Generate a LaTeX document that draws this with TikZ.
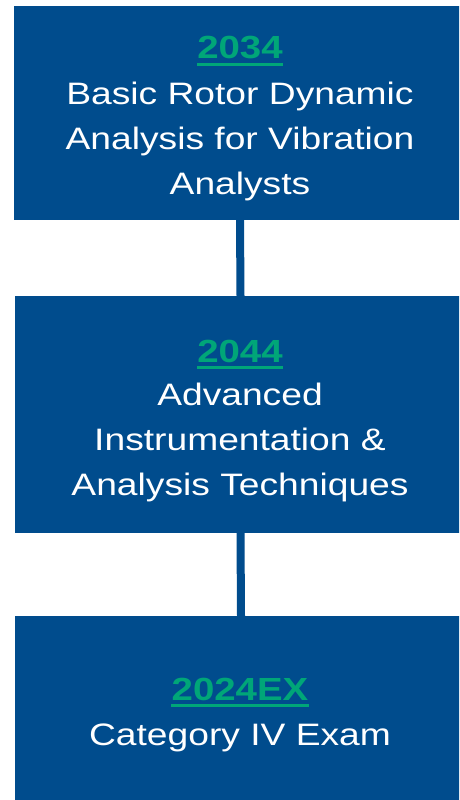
\documentclass[tikz,border=0pt]{standalone}
\usepackage{fontspec}
\setmainfont{Liberation Sans}[FakeStretch=1.2]
\definecolor{boxblue}{RGB}{0,76,141}
\definecolor{codegreen}{RGB}{0,166,120}
\begin{document}
\begin{tikzpicture}[x=1pt,y=-1pt,
  box/.style={fill=boxblue, draw=none, inner sep=0pt, minimum width=452pt},
  code/.style={text=codegreen, font=\fontsize{32}{38}\selectfont\bfseries, inner sep=0pt, anchor=base},
  title/.style={text=white, font=\fontsize{31}{45}\selectfont, inner sep=0pt, anchor=base},
  link/.style={draw=boxblue, line width=8pt},
  uline/.style={draw=codegreen, line width=3pt}]
\useasboundingbox (0,0) rectangle (459,800);
\clip (0,0) rectangle (459,800);
% boxes
\node[box, minimum height=214pt] (b1) at (240,113) {};
\node[box, minimum height=237pt] (b2) at (240.5,414.5) {};
\node[box, minimum height=192pt] (b3) at (241,712) {};
% connectors
\draw[link] (b1.south) -- (b2.north);
\draw[link] (b2.south) -- (b3.north);
% box 1 text
\node[code] (c1) at (240,59) {2034};
\draw[uline] ([yshift=-5.5pt]c1.base west) -- ([yshift=-5.5pt]c1.base east);
\node[title] (t1a) at (240,104) {Basic Rotor Dynamic};
\node[title] (t1b) at (240,149) {Analysis for Vibration};
\node[title] (t1c) at (240,194) {Analysts};
% box 2 text
\node[code] (c2) at (240,362) {2044};
\draw[uline] ([yshift=-5pt]c2.base west) -- ([yshift=-5pt]c2.base east);
\node[title] (t2a) at (240,405) {Advanced};
\node[title] (t2b) at (240,450) {Instrumentation \&};
\node[title] (t2c) at (240,495) {Analysis Techniques};
% box 3 text
\node[code] (c3) at (240,700) {2024EX};
\draw[uline] ([yshift=-5pt]c3.base west) -- ([yshift=-5pt]c3.base east);
\node[title] (t3a) at (240,745) {Category IV Exam};
\end{tikzpicture}
\end{document}
